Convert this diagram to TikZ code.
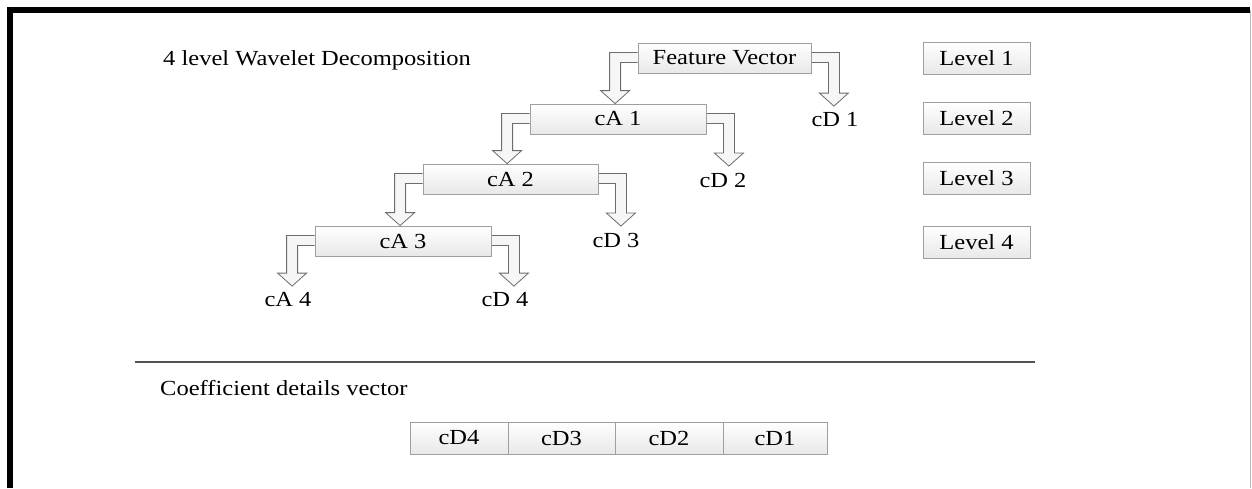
\documentclass[tikz,border=0pt]{standalone}
\usepackage{fontspec}
\setmainfont{Liberation Serif}[FakeStretch=1.14]
\usetikzlibrary{calc,backgrounds}
\tikzset{
  box/.style={draw=gray!75, line width=0.8pt, top color=white, bottom color=gray!18, inner sep=0pt, minimum height=30pt},
  levelbox/.style={box, minimum width=107pt, minimum height=32pt},
  vecbox/.style={box, minimum height=32pt},
  lbl/.style={inner xsep=0pt, inner ysep=6.5pt},
  blockarrow/.style={draw=gray!85!black, line width=0.8pt, fill=gray!7, line join=miter},
}
\newcommand\leftbranch[2]{%
  \draw[blockarrow] let \p1=(#1.west), \p4=(#2.north) in
    (\x1,\y1+5.5pt) -- (\x1-28pt,\y1+5.5pt) -- (\x1-28pt,\y4+13pt) -- (\x1-37pt,\y4+13pt)
    -- (\x1-22.5pt,\y4) -- (\x1-8pt,\y4+13pt) -- (\x1-17pt,\y4+13pt) -- (\x1-17pt,\y1-4.5pt) -- (\x1,\y1-4.5pt);}
\newcommand\rightbranch[2]{%
  \draw[blockarrow] let \p1=(#1.east), \p4=(#2.north) in
    (\x1,\y1+5.5pt) -- (\x1+28pt,\y1+5.5pt) -- (\x1+28pt,\y4+13pt) -- (\x1+37pt,\y4+13pt)
    -- (\x1+22.5pt,\y4) -- (\x1+8pt,\y4+13pt) -- (\x1+17pt,\y4+13pt) -- (\x1+17pt,\y1-4.5pt) -- (\x1,\y1-4.5pt);}
\begin{document}
\begin{tikzpicture}[x=1pt,y=-1pt,font=\fontsize{21.5}{25}\selectfont]
\useasboundingbox (0,0) rectangle (1252,488);
% frame
\draw[line width=5.3pt] (10,488) -- (10,10) -- (1250,10);
\draw[gray!55, line width=1.3pt] (1250.8,10) -- (1250.8,488);

% title
\node[anchor=base west, inner sep=0pt] (title) at (163,65) {4 level Wavelet Decomposition};

% labels
\node[lbl] (cd1) at (835,120) {cD 1};
\node[lbl] (cd2) at (723,180) {cD 2};
\node[lbl] (cd3) at (616,240) {cD 3};
\node[lbl] (cd4) at (505,300) {cD 4};
\node[lbl] (ca4) at (288,300) {cA 4};

% decomposition boxes
\node[box, minimum width=173pt] (fv) at (724.5,58) {Feature Vector};
\node[box, minimum width=176pt] (ca1) at (618,119) {cA 1};
\node[box, minimum width=175pt] (ca2) at (510.5,179) {cA 2};
\node[box, minimum width=176pt] (ca3) at (403,241) {cA 3};

% arrows behind the boxes
\begin{scope}[on background layer]
\leftbranch{fv}{ca1}
\rightbranch{fv}{cd1}
\leftbranch{ca1}{ca2}
\rightbranch{ca1}{cd2}
\leftbranch{ca2}{ca3}
\rightbranch{ca2}{cd3}
\leftbranch{ca3}{ca4}
\rightbranch{ca3}{cd4}
\end{scope}

% level boxes
\node[levelbox] (lv1) at (976.5,58) {Level 1};
\node[levelbox] (lv2) at (976.5,118) {Level 2};
\node[levelbox] (lv3) at (976.5,178.5) {Level 3};
\node[levelbox] (lv4) at (976.5,242) {Level 4};

% separator
\draw[line width=2.4pt, gray!65!black] (135,362) -- (1035,362);

% coefficient vector
\node[anchor=base west, inner sep=0pt] (cdv) at (160,395) {Coefficient details vector};
\node[vecbox, minimum width=98pt] (v4) at (459,438) {cD4};
\node[vecbox, minimum width=107pt] (v3) at (561.5,438) {cD3};
\node[vecbox, minimum width=108pt] (v2) at (669,438) {cD2};
\node[vecbox, minimum width=104pt] (v1) at (775,438) {cD1};
\end{tikzpicture}
\end{document}
